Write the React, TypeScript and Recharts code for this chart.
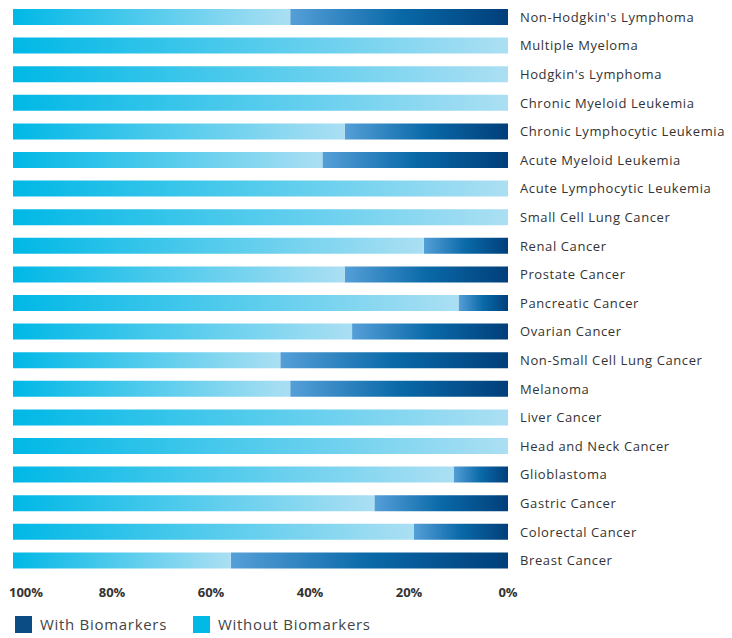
import { BarChart, Bar, XAxis, YAxis, Legend } from 'recharts';

const categories = [
  "Non-Hodgkin's Lymphoma",
  'Multiple Myeloma',
  "Hodgkin's Lymphoma",
  'Chronic Myeloid Leukemia',
  'Chronic Lymphocytic Leukemia',
  'Acute Myeloid Leukemia',
  'Acute Lymphocytic Leukemia',
  'Small Cell Lung Cancer',
  'Renal Cancer',
  'Prostate Cancer',
  'Pancreatic Cancer',
  'Ovarian Cancer',
  'Non-Small Cell Lung Cancer',
  'Melanoma',
  'Liver Cancer',
  'Head and Neck Cancer',
  'Glioblastoma',
  'Gastric Cancer',
  'Colorectal Cancer',
  'Breast Cancer',
];

// % of trials with biomarkers
const withBiomarkers = [44, 0, 0, 0, 33, 37.5, 0, 0, 17, 33, 10, 31.5, 46, 44, 0, 0, 11, 27, 19, 56];

const xTicks = [0, 20, 40, 60, 80, 100];

const legendColors = ['#0b4c85', '#00b9e6'];

const data = categories.map((name, i) => ({
  name,
  withB: withBiomarkers[i],
  withoutB: 100 - withBiomarkers[i],
}));

const XTick = ({ x, y, payload }: any) => {
  const first = payload.value === 100;
  return (
    <text
      x={first ? x - 4 : x}
      y={y + 22}
      textAnchor={first ? 'start' : 'middle'}
      fontFamily="Open Sans"
      fontWeight={700}
      fontSize={13}
      fill="#333"
    >
      {payload.value}%
    </text>
  );
};

const YTick = ({ x, y, payload }: any) => (
  <text
    x={x + 12}
    y={y}
    dy="0.35em"
    textAnchor="start"
    fontFamily="Open Sans"
    fontSize={13}
    letterSpacing={0.6}
    fill="#333"
  >
    {payload.value}
  </text>
);

const LegendContent = ({ payload }: any) => (
  <div style={{ display: 'flex', height: 24, alignItems: 'center', paddingLeft: 15, fontFamily: 'Open Sans', fontSize: 15, letterSpacing: 0.7, color: '#444' }}>
    {(payload || []).map((p: any, i: number) => (
      <div key={p.value} style={{ display: 'flex', alignItems: 'center', marginRight: 26 }}>
        <span style={{ width: 17, height: 17, background: legendColors[i], display: 'inline-block', marginRight: 8 }} />
        <span>{p.value}</span>
      </div>
    ))}
  </div>
);

export default function App() {
  return (
    <div style={{ position: 'absolute', left: 0, top: 0, background: '#fff' }}>
      <BarChart
        width={732}
        height={638}
        data={data}
        layout="vertical"
        barCategoryGap={0}
        margin={{ top: 3, right: 0, bottom: 2, left: 13 }}
      >
        <defs>
          <linearGradient id="gWith" x1="0" y1="0" x2="1" y2="0">
            <stop offset="0%" stopColor="#559fd8" />
            <stop offset="50%" stopColor="#0a69a8" />
            <stop offset="100%" stopColor="#003f7a" />
          </linearGradient>
          <linearGradient id="gWithout" x1="0" y1="0" x2="1" y2="0">
            <stop offset="0%" stopColor="#00b8e6" />
            <stop offset="100%" stopColor="#abdff3" />
          </linearGradient>
        </defs>
        <XAxis
          type="number"
          domain={[0, 100]}
          reversed
          ticks={xTicks}
          axisLine={false}
          tickLine={false}
          tickSize={0}
          tickMargin={0}
          height={37}
          tick={<XTick />}
          interval={0}
        />
        <YAxis
          type="category"
          dataKey="name"
          orientation="right"
          width={224}
          axisLine={false}
          tickLine={false}
          tickSize={0}
          tickMargin={0}
          interval={0}
          tick={<YTick />}
        />
        <Legend verticalAlign="bottom" align="left" wrapperStyle={{ left: 0 }} content={<LegendContent />} />
        <Bar dataKey="withB" name="With Biomarkers" stackId="a" fill="url(#gWith)" barSize={16} isAnimationActive={false} />
        <Bar dataKey="withoutB" name="Without Biomarkers" stackId="a" fill="url(#gWithout)" barSize={16} isAnimationActive={false} />
      </BarChart>
    </div>
  );
}
